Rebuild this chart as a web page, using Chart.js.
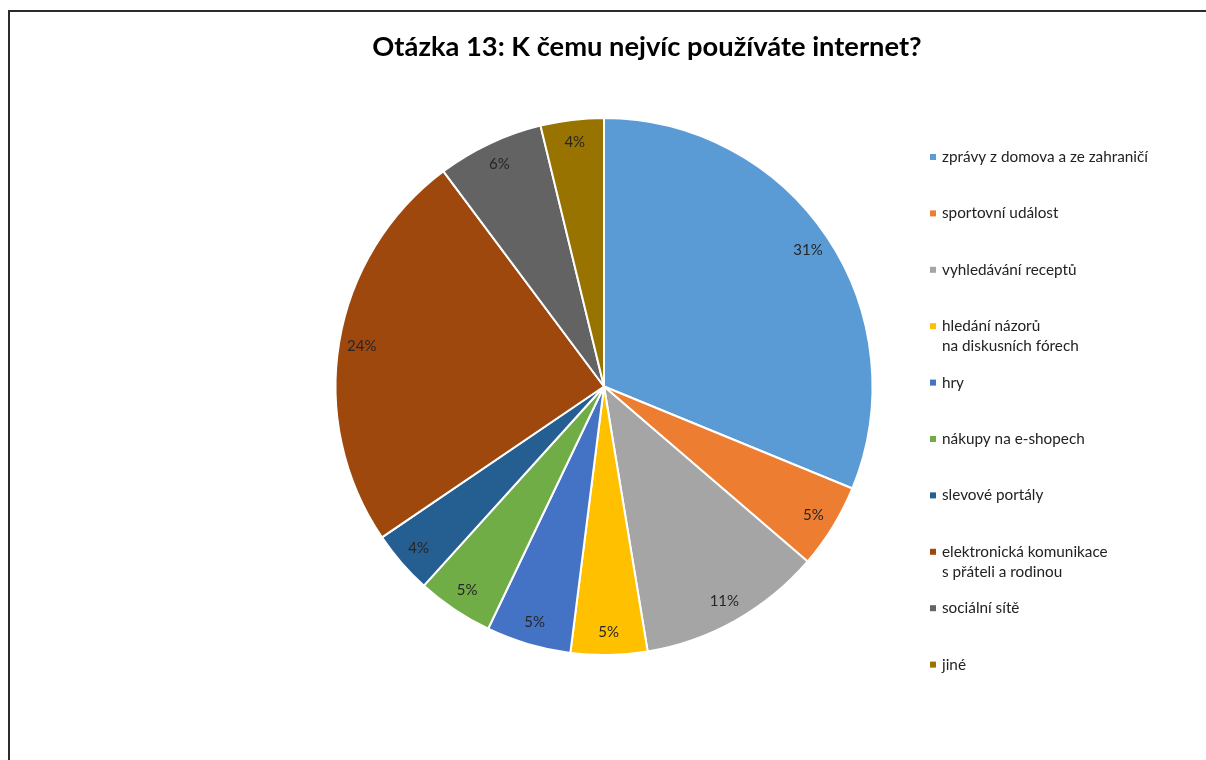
<!DOCTYPE html>
<html>
<head>
<meta charset="utf-8">
<title>Otázka 13</title>
<script src="https://cdn.jsdelivr.net/npm/chart.js@4/dist/chart.umd.min.js"></script>
<style>
  body { margin: 0; background: #fff; }
  canvas { display: block; }
</style>
</head>
<body>
<canvas id="myChart" width="1206" height="760"></canvas>
<script>
// odpovědi a jejich podíly (%)
var categories = [
  'zprávy z domova a ze zahraničí',
  'sportovní událost',
  'vyhledávání receptů',
  ['hledání názorů', 'na diskusních fórech'],
  'hry',
  'nákupy na e-shopech',
  'slevové portály',
  ['elektronická komunikace', 's přáteli a rodinou'],
  'sociální sítě',
  'jiné'
];
var shares = [31.2, 5.1, 11.1, 4.6, 5.1, 4.6, 3.8, 24.3, 6.4, 3.8];
var chartTitle = 'Otázka 13: K čemu nejvíc používáte internet?';

var palette = ['#5B9BD5', '#ED7D31', '#A5A5A5', '#FFC000', '#4472C4',
               '#70AD47', '#255E91', '#9E480E', '#636363', '#997300'];

Chart.defaults.font.family = 'Lato';

// rámeček kolem grafu + nadpis (v Excelu je posunutý doprava)
var frame = {
  id: 'frame',
  beforeDraw: function (chart) {
    var ctx = chart.ctx;
    ctx.save();
    ctx.fillStyle = '#fff';
    ctx.fillRect(0, 0, chart.width, chart.height);
    ctx.strokeStyle = '#2b2b2b';
    ctx.lineWidth = 2;
    ctx.strokeRect(9, 11, 1400, 1000);
    ctx.fillStyle = '#000';
    ctx.font = 'bold 27.3px Lato';
    ctx.textAlign = 'center';
    ctx.textBaseline = 'middle';
    ctx.fillText(chartTitle, 647, 47);
    ctx.restore();
  }
};

// procenta uvnitř výsečí
var pieLabels = {
  id: 'pieLabels',
  afterDatasetsDraw: function (chart) {
    var ctx = chart.ctx;
    var vals = chart.data.datasets[0].data;
    var total = vals.reduce(function (a, b) { return a + b; }, 0);
    ctx.save();
    ctx.font = '15px Lato';
    ctx.fillStyle = '#262626';
    ctx.textAlign = 'center';
    ctx.textBaseline = 'middle';
    chart.getDatasetMeta(0).data.forEach(function (arc, i) {
      var p = arc.getProps(['x', 'y', 'startAngle', 'endAngle', 'outerRadius'], true);
      var mid = (p.startAngle + p.endAngle) / 2;
      var r = p.outerRadius * 0.915;
      ctx.fillText(Math.round(vals[i] / total * 100) + '%',
        p.x + Math.cos(mid) * r, p.y + Math.sin(mid) * r);
    });
    ctx.restore();
  }
};

// legenda vpravo (jako v Excelu, stejné rozestupy)
var sideLegend = {
  id: 'sideLegend',
  afterDraw: function (chart) {
    var ctx = chart.ctx;
    var colors = chart.data.datasets[0].backgroundColor;
    ctx.save();
    ctx.font = '15.3px Lato';
    ctx.textBaseline = 'middle';
    chart.data.labels.forEach(function (lab, i) {
      var y = 157 + i * 56.4;
      ctx.fillStyle = colors[i];
      ctx.fillRect(930, y - 3, 6, 6);
      ctx.fillStyle = '#222';
      [].concat(lab).forEach(function (line, j) {
        ctx.fillText(line, 942, y + j * 20);
      });
    });
    ctx.restore();
  }
};

var ctx = document.getElementById('myChart').getContext('2d');
var myChart = new Chart(ctx, {
  type: 'pie',
  data: {
    labels: categories,
    datasets: [{
      data: shares,
      backgroundColor: palette,
      borderColor: '#fff',
      borderWidth: 2
    }]
  },
  options: {
    responsive: false,
    animation: false,
    layout: {
      padding: { top: 117, bottom: 104, left: 200, right: 198 }
    },
    plugins: {
      legend: { display: false },
      tooltip: { enabled: false },
      title: { display: false }
    }
  },
  plugins: [frame, pieLabels, sideLegend]
});
</script>
</body>
</html>
